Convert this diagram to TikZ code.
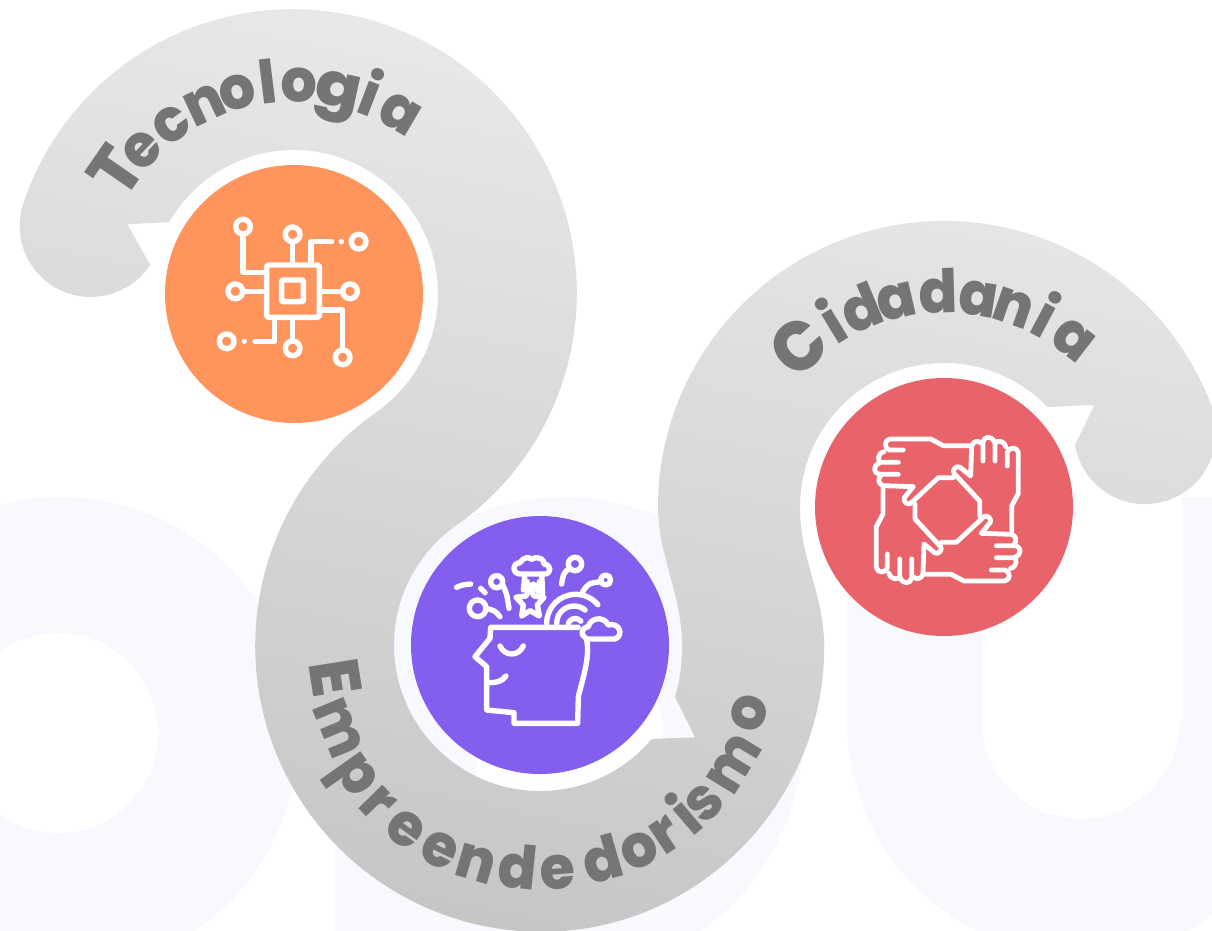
\documentclass[tikz,border=0pt]{standalone}
\usepackage{fontspec}
\usepackage{graphicx}
\usetikzlibrary{calc}
\setmainfont{Poppins}[BoldFont={Poppins ExtraBold},BoldFeatures={FakeStretch=0.95}]
\definecolor{pale}{HTML}{F8F9FE}
\definecolor{inkgrey}{HTML}{757575}
\definecolor{orangec}{HTML}{FF945C}
\definecolor{purplec}{HTML}{845EEC}
\definecolor{redc}{HTML}{E8646A}
\newcommand\capl[1]{{\fontsize{70}{70}\selectfont #1}}
\newcommand\wid[2]{\scalebox{#1}[1]{#2}}
\tikzset{
  lett/.style={inner sep=0pt,anchor=base,text=inkgrey,font=\fontsize{60}{60}\selectfont\bfseries},
  icon/.style={draw=white,line width=5.4pt,line cap=round,line join=round},
  icon thin/.style={draw=white,line width=4.8pt,line cap=round,line join=round},
  disc/.style={circle,minimum size=258pt,inner sep=0pt}
}
\begin{document}
\begin{tikzpicture}[x=1pt,y=-1pt]
\useasboundingbox (0,0) rectangle (1212,930);
\fill[white] (0,0) rectangle (1212,930);
\clip (0,0) rectangle (1212,930);
\coordinate (A) at (294,294);
\coordinate (B) at (540,645);
\coordinate (C) at (944,507);
% pale background letters
\fill[pale] (60,735) circle[radius=238];
\fill[white] (58,733) circle[radius=100];
\fill[pale] (565,735) circle[radius=238];
\fill[pale] (335,735) rectangle (565,931);
\fill[white] (477,735) arc[start angle=180,end angle=360,radius=93] -- (663,800) -- (477,800) -- cycle;
\fill[pale] (847,497) rectangle (982,720) (1182,497) rectangle (1315,720);
\fill[pale] (847,720) arc[start angle=180,end angle=0,x radius=234,y radius=236] -- (1180,720) arc[start angle=0,end angle=180,radius=99] -- cycle;
% ribbon
\path[top color=black!7,bottom color=black!22.5,shading angle=-12]
  (149,263) -- (130,229) .. controls (127,224) .. (133,224) -- ($(A)+(210:144)$)
  arc[start angle=210,end angle=414.9,radius=144]
  arc[start angle=234.9,end angle=90,radius=286]
  arc[start angle=90,end angle=0,x radius=283,y radius=286]
  .. controls (823,590) and (800,560) .. (800,507)
  arc[start angle=180,end angle=316.1,radius=144]
  -- (1089,405) .. controls (1095,405) .. (1092,410) -- (1075,445)
  arc[start angle=170.3,end angle=-20.2,radius=71]
  -- ($(C)+(-20.2:286)$)
  arc[start angle=-20.2,end angle=-180,radius=286]
  .. controls (658,555) and (682,595) .. (682,645)
  .. controls (682,665) and (680,680) .. (675,697)
  -- (692,731) .. controls (696,738) .. (690,737.5) -- ($(B)+(40:146)$)
  arc[start angle=40,end angle=234.9,radius=146]
  arc[start angle=54.9,end angle=-161.6,radius=284]
  arc[start angle=198.4,end angle=32.3,radius=71] -- cycle;
% discs
\node[disc,fill=orangec] (d1) at (A) {};
\node[disc,fill=purplec] (d2) at (B) {};
\node[disc,fill=redc] (d3) at (C) {};
% letters
\foreach \a/\l/\r [count=\i] in {214.6/{\capl{T}}/192,223.4/e/192,234/c/192,244.8/n/192,254.4/o/192,263/l/192,271.5/o/192,282.4/{\wid{1.18}{g}}/192,291/i/192,300.4/a/192}
  \node[lett,rotate={270-\a}] (tec\i) at ($(A)+(\a:\r)$) {\l};
\foreach \a/\l/\r [count=\i] in {228/{\capl{C}}/192,238.8/i/194,247.4/d/194,257/a/194,268.4/d/194,279.3/a/194,289.3/n/194,298/i/194,307.6/a/194}
  \node[lett,rotate={270-\a}] (cid\i) at ($(C)+(\a:\r)$) {\l};
\foreach \a/\l/\r [count=\i] in {171/{\capl{E}}/231,157.6/{\wid{.96}{m}}/235,144.8/p/241,135.6/r/244,126.2/e/245,116.1/e/245,106.3/n/245,95.7/d/245,85.5/e/245,73.8/d/245,64.2/o/245,56.4/r/245,49.6/i/245,43.8/s/245,31.4/{\wid{.96}{m}}/245,18/o/237}
  \node[lett,rotate={90-\a}] (emp\i) at ($(B)+(\a:\r)$) {\l};
% chip icon (coordinates of a 3x crop)
\begin{scope}[x=.33333pt,y=-.33333pt,shift={(600,600)}]
  \draw[icon,rounded corners=1.5pt] (200,195) rectangle (358,352);
  \draw[icon,rounded corners=1pt] (245,240) rectangle (310,305);
  \draw[icon] (129,80) circle[radius=22];
  \draw[icon] (129,102) -- (129,217) -- (195,217);
  \draw[icon] (278,103) circle[radius=22];
  \draw[icon] (278,125) -- (278,190);
  \draw[icon] (333,190) -- (333,125) -- (395,125);
  \fill[white] (424,125) circle[radius=8];
  \draw[icon] (476,125) circle[radius=22];
  \draw[icon] (106,274) circle[radius=22];
  \draw[icon] (128,274) -- (192,274);
  \draw[icon] (450,274) circle[radius=22];
  \draw[icon] (428,274) -- (362,274);
  \draw[icon] (362,330) -- (428,330) -- (428,450);
  \draw[icon] (428,472) circle[radius=22];
  \draw[icon] (278,445) circle[radius=22];
  \draw[icon] (278,423) -- (278,358);
  \draw[icon] (223,358) -- (223,424) -- (165,424);
  \fill[white] (133,424) circle[radius=8];
  \draw[icon] (80,424) circle[radius=22];
\end{scope}
% head icon
\begin{scope}[x=.33333pt,y=-.33333pt,shift={(1320,1620)}]
  \draw[icon] (415,262) -- (152,262) -- (150,295) -- (105,350) -- (140,380) -- (140,510) -- (222,518) -- (222,550) -- (413,550) -- (415,470) .. controls (430,410) and (450,350) .. (440,300);
  \draw[icon] (180,318) .. controls (195,350) and (235,350) .. (250,318);
  \draw[icon] (145,428) .. controls (170,428) and (185,425) .. (198,408);
  \draw[icon] (50,142) .. controls (65,135) .. (92,132);
  \draw[icon] (122,145) -- (135,158);
  \draw[icon] (170,125) circle[radius=18];
  \draw[icon] (188,135) .. controls (200,160) .. (207,205);
  \draw[icon] (113,205) circle[radius=25];
  \draw[icon] (138,205) .. controls (165,212) .. (180,230);
  \draw[icon] (405,72) circle[radius=20];
  \draw[icon] (388,85) .. controls (370,100) .. (365,132);
  \draw[icon] (497,120) circle[radius=15];
  \draw[icon] (482,125) .. controls (445,130) .. (428,155);
  \draw[icon] (240,102) .. controls (215,100) and (215,70) .. (240,68) .. controls (250,50) and (270,50) .. (275,58) .. controls (295,45) and (315,60) .. (312,72) .. controls (335,75) and (335,100) .. (315,102) -- cycle;
  \draw[icon] (255,102) -- (250,150);
  \draw[icon] (305,102) -- (308,160);
  \draw[icon] (262,125) -- (262,152) -- (280,132) -- (295,155) -- (298,125);
  \draw[icon] (270,145) -- (282,168) -- (312,172) -- (292,195) -- (298,228) -- (270,212) -- (245,228) -- (250,195) -- (228,172) -- (258,168) -- cycle;
  \draw[icon] (320,250) arc[start angle=180,end angle=320,radius=87];
  \draw[icon] (350,250) arc[start angle=180,end angle=310,radius=52];
  \draw[icon] (385,250) arc[start angle=200,end angle=320,radius=22];
  \draw[icon,fill=purplec] (435,292) .. controls (420,285) and (425,262) .. (445,260) .. controls (450,235) and (490,225) .. (505,255) .. controls (535,245) and (555,285) .. (525,297) -- (440,297) -- cycle;
\end{scope}
% hands icon
\begin{scope}[x=.33333pt,y=-.33333pt,shift={(2580,1275)}]
  \foreach \k in {0,1,2,3}{
  \begin{scope}[rotate around={-90*\k:(262,255)}]
    \draw[icon thin] (328,62) -- (250,62) -- (212,42) -- (90,42) .. controls (72,44) and (72,70) .. (88,75) -- (130,75);
    \draw[icon thin] (72,80) .. controls (52,85) and (52,108) .. (62,112) -- (115,112);
    \draw[icon thin] (58,114) .. controls (38,122) and (40,145) .. (58,148) -- (115,148);
    \draw[icon thin] (62,152) .. controls (52,162) and (55,178) .. (70,182) -- (160,185) -- (133,218) .. controls (128,228) and (142,242) .. (152,235) -- (235,158) -- (280,158);
  \end{scope}}
\end{scope}
\end{tikzpicture}
\end{document}
